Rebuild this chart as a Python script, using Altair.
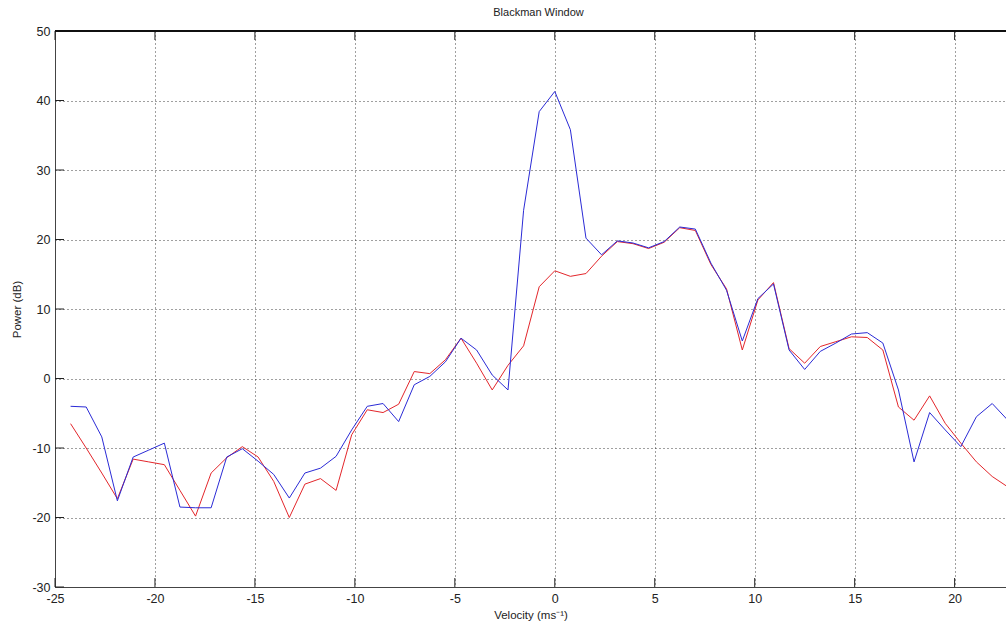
import altair as alt
import pandas as pd

# Velocity bins (m/s)
velocity = [-24.22, -23.44, -22.66, -21.88, -21.09, -20.31, -19.53, -18.75, -17.97, -17.19,
            -16.41, -15.63, -14.84, -14.06, -13.28, -12.50, -11.72, -10.94, -10.16, -9.38,
            -8.59, -7.81, -7.03, -6.25, -5.47, -4.69, -3.91, -3.13, -2.34, -1.56,
            -0.78, 0.00, 0.78, 1.56, 2.34, 3.13, 3.91, 4.69, 5.47, 6.25,
            7.03, 7.81, 8.59, 9.38, 10.16, 10.94, 11.72, 12.50, 13.28, 14.06,
            14.84, 15.63, 16.41, 17.19, 17.97, 18.75, 19.53, 20.31, 21.09, 21.88,
            22.66]

# Blue series (dB)
power_blue = [-4.0, -4.1, -8.4, -17.6, -11.3, -10.3, -9.3, -18.5, -18.6, -18.6,
              -11.3, -10.1, -11.9, -13.8, -17.2, -13.6, -12.9, -11.2, -7.4, -4.0,
              -3.6, -6.2, -0.9, 0.3, 2.4, 5.8, 4.1, 0.5, -1.65, 24.2,
              38.4, 41.3, 35.8, 20.2, 17.8, 19.8, 19.5, 18.8, 19.7, 21.8,
              21.5, 16.6, 12.7, 5.4, 11.5, 13.6, 4.1, 1.3, 3.9, 5.1,
              6.4, 6.6, 5.1, -1.65, -12.0, -4.9, -7.4, -9.8, -5.5, -3.6,
              -6.0]

# Red series (dB)
power_red = [-6.5, -10.0, -13.6, -17.3, -11.6, -12.0, -12.4, -16.1, -19.8, -13.6,
             -11.4, -9.8, -11.3, -14.8, -20.0, -15.2, -14.4, -16.1, -8.1, -4.5,
             -4.9, -3.7, 1.0, 0.7, 2.7, 5.8, 2.2, -1.65, 1.9, 4.7,
             13.2, 15.5, 14.7, 15.1, 17.6, 19.7, 19.4, 18.7, 19.6, 21.7,
             21.3, 16.4, 12.9, 4.1, 11.3, 13.8, 4.3, 2.2, 4.6, 5.3,
             6.0, 5.9, 4.1, -4.1, -6.0, -2.5, -6.45, -9.3, -12.0, -14.1,
             -15.6]

x_ticks = [-25, -20, -15, -10, -5, 0, 5, 10, 15, 20]
y_ticks = [-30, -20, -10, 0, 10, 20, 30, 40, 50]

W, H = 951, 556
FONT = "Liberation Sans"

xs = alt.Scale(domain=[-25, 22.57], nice=False, zero=False)
ys = alt.Scale(domain=[-30, 50], nice=False, zero=False)

common = dict(
    grid=True, ticks=False, labelExpr="toString(datum.value)",
    labelFont=FONT, titleFont=FONT, labelFontSize=12.5, titleFontSize=11.5,
    titleFontWeight="normal", labelColor="#222222", titleColor="#222222",
    domainColor="#444444", domainWidth=1,
    gridColor="#000000", gridDash=[1, 3], gridOpacity=0.75, gridWidth=1,
    labelFlush=False, labelOverlap=False,
)
x_axis = alt.Axis(values=x_ticks, title="Velocity (ms\u207b\u00b9)", labelPadding=5,
                  titlePadding=5, **common)
y_axis = alt.Axis(values=y_ticks, title="Power (dB)", labelPadding=5, titlePadding=9,
                  **common)

df = pd.DataFrame({"v": velocity, "blue": power_blue, "red": power_red})

red = alt.Chart(df).mark_line(color="#e3262b", strokeWidth=1, clip=True).encode(
    x=alt.X("v:Q", scale=xs, axis=x_axis),
    y=alt.Y("red:Q", scale=ys, axis=y_axis),
)
blue = alt.Chart(df).mark_line(color="#2b2bd6", strokeWidth=1, clip=True).encode(
    x=alt.X("v:Q", scale=xs, axis=x_axis),
    y=alt.Y("blue:Q", scale=ys, axis=y_axis),
)

xt = pd.DataFrame({"t": x_ticks})
yt = pd.DataFrame({"t": y_ticks})
tick_color = "#222222"
bottom_ticks = alt.Chart(xt).mark_rule(color=tick_color, strokeWidth=1).encode(
    x=alt.X("t:Q", scale=xs, axis=x_axis), y=alt.value(H), y2=alt.value(H - 9))
top_ticks = alt.Chart(xt).mark_rule(color=tick_color, strokeWidth=1).encode(
    x=alt.X("t:Q", scale=xs, axis=x_axis), y=alt.value(0), y2=alt.value(9))
left_ticks = alt.Chart(yt).mark_rule(color=tick_color, strokeWidth=1).encode(
    y=alt.Y("t:Q", scale=ys, axis=y_axis), x=alt.value(0), x2=alt.value(9))
top_border = alt.Chart(xt).mark_rule(color="#111111", strokeWidth=1).encode(
    y=alt.value(0), x=alt.value(0), x2=alt.value(W))

chart = alt.layer(red, blue, bottom_ticks, top_ticks, left_ticks, top_border).properties(
    width=W, height=H,
    autosize=alt.AutoSizeParams(type="none"),
    padding={"left": 55, "top": 31, "right": 0, "bottom": 45},
    title=alt.TitleParams("Blackman Window", fontSize=11, font=FONT, fontWeight="normal",
                          color="#222222", anchor="middle", dx=8, offset=7),
).configure_view(stroke=None).configure(background="white")

chart.save("out.html", embed_options={"renderer": "svg", "actions": False})
